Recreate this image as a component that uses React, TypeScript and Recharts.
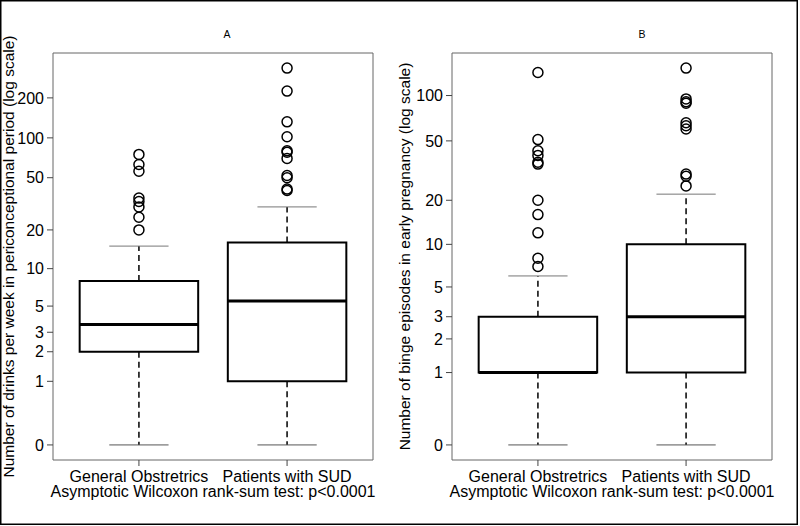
import {
  ReferenceArea,
  ReferenceLine,
  Scatter,
  ScatterChart,
  XAxis,
  YAxis,
} from "recharts";

const groups = ["General Obstretrics", "Patients with SUD"];
const groupPos = [1, 2];

// panel A: drinks per week in periconceptional period
const drinksQ1 = [2, 1];
const drinksMedian = [3.5, 5.5];
const drinksQ3 = [8, 16];
const drinksWhiskerLow = [0, 0];
const drinksWhiskerHigh = [15, 30];
const drinksOutliersGO = [20, 25, 30, 33, 35, 56, 63, 75];
const drinksOutliersSUD = [40, 41, 50, 52, 70, 78, 80, 102, 132, 225, 335];
const drinksTicks = [0, 1, 2, 3, 5, 10, 20, 50, 100, 200];

// panel B: binge episodes in early pregnancy
const bingeQ1 = [1, 1];
const bingeMedian = [1, 3];
const bingeQ3 = [3, 10];
const bingeWhiskerLow = [0, 0];
const bingeWhiskerHigh = [6, 22];
const bingeOutliersGO = [7, 8, 12, 16, 20, 35, 36, 40, 43, 51, 142];
const bingeOutliersSUD = [25, 29, 30, 60, 63, 66, 89, 91, 95, 152];
const bingeTicks = [0, 1, 2, 3, 5, 10, 20, 50, 100];

const FONT = "'Liberation Sans', Arial, Helvetica, sans-serif";
const tr = (v: number) => Math.log10(v + 0.5);
const untr = (t: number) => Math.round(Math.pow(10, t) - 0.5);
const X_DOMAIN: [number, number] = [0.42, 2.58];

interface PanelProps {
  width: number;
  axisWidth: number;
  yLabel: string;
  labelX: number;
  q1: number[];
  med: number[];
  q3: number[];
  lo: number[];
  hi: number[];
  outliers: number[][];
  ticks: number[];
}

function Panel({ width, axisWidth, yLabel, labelX, q1, med, q3, lo, hi, outliers, ticks }: PanelProps) {
  const all = [...lo, ...hi, ...outliers.flat()].map(tr);
  const tMin = Math.min(...all);
  const tMax = Math.max(...all);
  const pad = (tMax - tMin) * 0.04;
  const yDomain: [number, number] = [tMin - pad, tMax + pad];

  return (
    <ScatterChart width={width} height={526} margin={{ top: 53, right: 27, bottom: 26, left: 0 }}>
      <XAxis
        type="number"
        dataKey="x"
        domain={X_DOMAIN}
        allowDataOverflow
        ticks={groupPos}
        interval={0}
        tickFormatter={(v: number) => groups[v - 1] ?? ""}
        axisLine={false}
        tickLine={{ stroke: "#444" }}
        tickSize={6}
        tickMargin={5}
        height={40}
        tick={{ fill: "#000", fontSize: 16, fontFamily: FONT }}
        label={(p: any) => {
          const vb = p.viewBox ?? p;
          return (
            <text
              x={vb.x + vb.width / 2}
              y={vb.y + 36.5}
              textAnchor="middle"
              fontSize={16}
              fontFamily={FONT}
              fill="#000"
            >
              Asymptotic Wilcoxon rank-sum test: p&lt;0.0001
            </text>
          );
        }}
      />
      <YAxis
        type="number"
        dataKey="y"
        domain={yDomain}
        allowDataOverflow
        ticks={ticks.map(tr)}
        interval={0}
        tickFormatter={(v: number) => String(untr(v))}
        axisLine={false}
        tickLine={{ stroke: "#444" }}
        tickSize={6}
        tickMargin={3}
        width={axisWidth}
        tick={{ fill: "#000", fontSize: 16, fontFamily: FONT }}
        label={(p: any) => {
          const vb = p.viewBox ?? p;
          const cy = vb.y + vb.height / 2;
          return (
            <text
              x={labelX}
              y={cy}
              transform={`rotate(-90 ${labelX} ${cy})`}
              textAnchor="middle"
              fontSize={15.5}
              fontFamily={FONT}
              fill="#000"
            >
              {yLabel}
            </text>
          );
        }}
      />

      {groupPos.map((pos, i) => (
        <ReferenceArea
          key={`box-${i}`}
          x1={pos - 0.4}
          x2={pos + 0.4}
          y1={tr(q1[i])}
          y2={tr(q3[i])}
          fill="none"
          stroke="#000"
          strokeWidth={2}
          ifOverflow="visible"
        />
      ))}
      {groupPos.map((pos, i) => (
        <ReferenceLine
          key={`med-${i}`}
          segment={[
            { x: pos - 0.4, y: tr(med[i]) },
            { x: pos + 0.4, y: tr(med[i]) },
          ]}
          stroke="#000"
          strokeWidth={3}
          ifOverflow="visible"
        />
      ))}
      {groupPos.map((pos, i) => (
        <ReferenceLine
          key={`wup-${i}`}
          segment={[
            { x: pos, y: tr(q3[i]) },
            { x: pos, y: tr(hi[i]) },
          ]}
          stroke="#000"
          strokeWidth={1.5}
          strokeDasharray="6 4"
          ifOverflow="visible"
        />
      ))}
      {groupPos.map((pos, i) => (
        <ReferenceLine
          key={`wlo-${i}`}
          segment={[
            { x: pos, y: tr(q1[i]) },
            { x: pos, y: tr(lo[i]) },
          ]}
          stroke="#000"
          strokeWidth={1.5}
          strokeDasharray="6 4"
          ifOverflow="visible"
        />
      ))}
      {groupPos.map((pos, i) => (
        <ReferenceLine
          key={`shi-${i}`}
          segment={[
            { x: pos - 0.2, y: tr(hi[i]) },
            { x: pos + 0.2, y: tr(hi[i]) },
          ]}
          stroke="#777"
          strokeWidth={1}
          ifOverflow="visible"
        />
      ))}
      {groupPos.map((pos, i) => (
        <ReferenceLine
          key={`slo-${i}`}
          segment={[
            { x: pos - 0.2, y: tr(lo[i]) },
            { x: pos + 0.2, y: tr(lo[i]) },
          ]}
          stroke="#555"
          strokeWidth={1}
          ifOverflow="visible"
        />
      ))}

      {groupPos.map((pos, i) => (
        <Scatter
          key={`out-${i}`}
          data={outliers[i].map((v) => ({ x: pos, y: tr(v) }))}
          isAnimationActive={false}
          shape={(p: any) => (
            <circle cx={p.cx} cy={p.cy} r={5} fill="none" stroke="#000" strokeWidth={1.5} />
          )}
        />
      ))}

      <ReferenceArea
        x1={X_DOMAIN[0]}
        x2={X_DOMAIN[1]}
        y1={yDomain[0]}
        y2={yDomain[1]}
        fill="none"
        stroke="#666"
        strokeWidth={1}
        ifOverflow="visible"
      />
    </ScatterChart>
  );
}

export default function App() {
  return (
    <div
      style={{
        position: "absolute",
        left: 0,
        top: 0,
        width: 800,
        height: 526,
        background: "#fff",
        fontFamily: FONT,
      }}
    >
      <div style={{ position: "absolute", left: 0, top: 0 }}>
        <Panel
          width={400}
          axisWidth={53}
          yLabel="Number of drinks per week in periconceptional period (log scale)"
          labelX={13.5}
          q1={drinksQ1}
          med={drinksMedian}
          q3={drinksQ3}
          lo={drinksWhiskerLow}
          hi={drinksWhiskerHigh}
          outliers={[drinksOutliersGO, drinksOutliersSUD]}
          ticks={drinksTicks}
        />
      </div>
      <div style={{ position: "absolute", left: 388, top: 0 }}>
        <Panel
          width={411}
          axisWidth={64}
          yLabel="Number of binge episodes in early pregnancy (log scale)"
          labelX={22}
          q1={bingeQ1}
          med={bingeMedian}
          q3={bingeQ3}
          lo={bingeWhiskerLow}
          hi={bingeWhiskerHigh}
          outliers={[bingeOutliersGO, bingeOutliersSUD]}
          ticks={bingeTicks}
        />
      </div>
      <svg
        width={800}
        height={526}
        style={{ position: "absolute", left: 0, top: 0, pointerEvents: "none" }}
      >
        <rect x={0.75} y={0.75} width={796.5} height={523.5} fill="none" stroke="#000" strokeWidth={1.5} />
        <text x={227} y={38} textAnchor="middle" fontSize={10.5} fontFamily={FONT} fill="#000">
          A
        </text>
        <text x={642} y={38} textAnchor="middle" fontSize={10.5} fontFamily={FONT} fill="#000">
          B
        </text>
      </svg>
    </div>
  );
}
